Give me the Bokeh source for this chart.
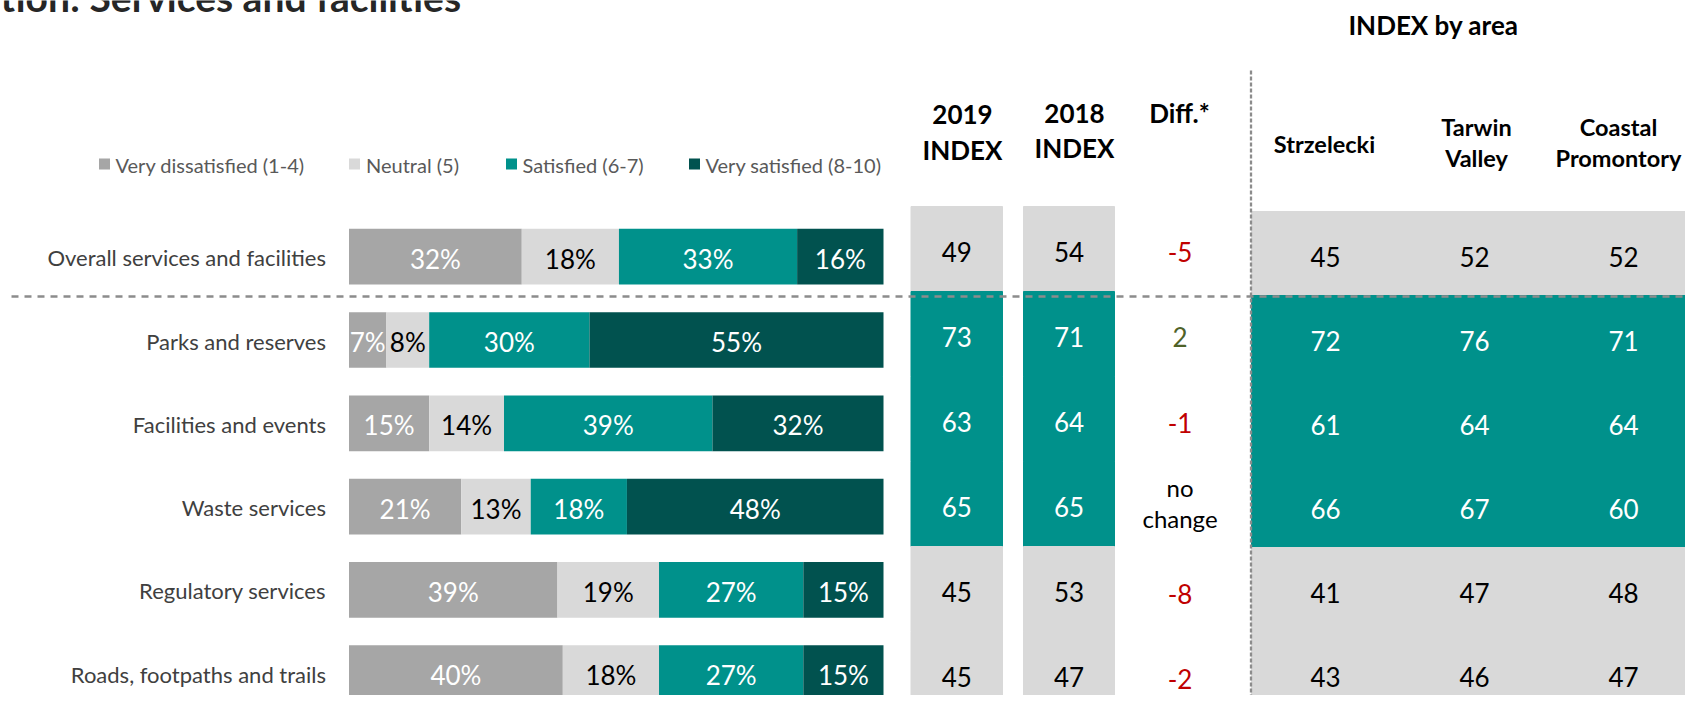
from bokeh.plotting import figure
from bokeh.models import Range1d, ColumnDataSource
from bokeh.core.properties import value
from bokeh.embed import file_html
from bokeh.resources import INLINE

# ---------------- data ----------------
categories = ["Overall services and facilities", "Parks and reserves", "Facilities and events",
              "Waste services", "Regulatory services", "Roads, footpaths and trails"]
series_names = ["Very dissatisfied (1-4)", "Neutral (5)", "Satisfied (6-7)", "Very satisfied (8-10)"]
very_dissatisfied = [32, 7, 15, 21, 39, 40]
neutral = [18, 8, 14, 13, 19, 18]
satisfied = [33, 30, 39, 18, 27, 27]
very_satisfied = [16, 55, 32, 48, 15, 15]
index_2019 = [49, 73, 63, 65, 45, 45]
index_2018 = [54, 71, 64, 65, 53, 47]
area_names = ["Strzelecki", "Tarwin\nValley", "Coastal\nPromontory"]
strzelecki = [45, 72, 61, 66, 41, 43]
tarwin_valley = [52, 76, 64, 67, 47, 46]
coastal_promontory = [52, 71, 64, 60, 48, 47]
highlight_rows = [False, True, True, True, False, False]
title_text = "tion: Services and facilities"

# ---------------- style / layout ----------------
FONT = value("Lato")
SERIES_COLORS = ["#A6A6A6", "#D9D9D9", "#00918B", "#01524F"]
LABEL_COLORS = ["white", "black", "white", "white"]
GREY, TEAL = "#D9D9D9", "#00918B"
DASH_COLOR = "#8C8C8C"

W, H = 1685, 695
PX0, PY0 = 0, 0                     # picture coordinate of the canvas corner
BAR_L, BAR_R = 348.5, 883.0         # picture px of 0% and 100%
BAR_Y0, BAR_STEP, BAR_H = 256.2, 83.3, 55.7

def to_pct(px):
    return (px - BAR_L) / (BAR_R - BAR_L) * 100.0

p = figure(width=W, height=H, x_range=Range1d(PX0, PX0 + W), y_range=Range1d(PY0 + H, PY0),
           x_axis_type=None, y_axis_type=None, toolbar_location=None, output_backend="svg",
           min_border=0, outline_line_color=None, background_fill_color="white")
p.grid.visible = False
p.extra_x_ranges = {"pct": Range1d(to_pct(PX0), to_pct(PX0 + W))}

n = len(categories)
rows = list(range(n))
bar_y = [BAR_Y0 + BAR_STEP * i for i in rows]

# ---------------- stacked 100% bars ----------------
series = [very_dissatisfied, neutral, satisfied, very_satisfied]
totals = [sum(s[i] for s in series) for i in rows]
cum = [0.0] * n
for k, s in enumerate(series):
    left = [cum[i] for i in rows]
    right = [cum[i] + s[i] / totals[i] * 100.0 for i in rows]
    cum = right
    src = ColumnDataSource(dict(y=bar_y, left=left, right=right,
                                mid=[(a + b) / 2 for a, b in zip(left, right)],
                                ty=[y + 2 for y in bar_y],
                                label=[f"{v}%" for v in s]))
    p.hbar(y="y", left="left", right="right", height=BAR_H, source=src,
           fill_color=SERIES_COLORS[k], line_color=None, x_range_name="pct")
    p.text(x="mid", y="ty", text="label", source=src, x_range_name="pct",
           text_align="center", text_baseline="middle", text_font=FONT,
           text_font_size="26px", text_color=LABEL_COLORS[k])

# category labels
p.text(x=[325.5] * n, y=[y + 1 for y in bar_y], text=categories, text_align="right",
       text_baseline="middle", text_font=FONT, text_font_size="22px", text_color="#404040")

# legend
leg_sq_x = [104, 354, 511, 694]
leg_tx_x = [115, 365.5, 522, 705]
p.scatter(x=leg_sq_x, y=[163.5] * 4, marker="square", size=11, fill_color=SERIES_COLORS,
          line_color=None)
p.text(x=leg_tx_x, y=[164] * 4, text=series_names, text_baseline="middle",
       text_font=FONT, text_font_size="20px", text_color="#595959")

# ---------------- index columns ----------------
CELL_TOP, CELL_H = 206, 85
col_bounds = [(910.5, 1002), (1023, 1114)]
cell_fill = [TEAL if h else GREY for h in highlight_rows]
cell_txt = ["white" if h else "black" for h in highlight_rows]
for (l, r), vals in zip(col_bounds, [index_2019, index_2018]):
    tops = [CELL_TOP + CELL_H * i for i in rows]
    p.quad(left=[l] * n, right=[r] * n, top=tops, bottom=[t + CELL_H for t in tops],
           fill_color=cell_fill, line_color=cell_fill, line_width=1)
    p.text(x=[(l + r) / 2] * n, y=[t + CELL_H / 2 + 3 for t in tops], text=[str(v) for v in vals],
           text_align="center", text_baseline="middle", text_font=FONT, text_font_size="26px",
           text_color=cell_txt)

# diff column
diffs = [a - b for a, b in zip(index_2019, index_2018)]
diff_text = [("no\nchange" if d == 0 else str(d)) for d in diffs]
diff_color = [("black" if d == 0 else ("#4F6228" if d > 0 else "#C00000")) for d in diffs]
diff_size = [("24px" if d == 0 else "26px") for d in diffs]
diff_y = [251 + 85.5 * i - (5 if d == 0 else 0) for i, d in zip(rows, diffs)]
p.text(x=[1179.5] * n, y=diff_y, text=diff_text, text_align="center",
       text_baseline="middle", text_font=FONT, text_font_size=diff_size, text_color=diff_color,
       text_line_height=1.05)

# ---------------- area panel ----------------
AREA_TOP, AREA_H = 211, 84
AREA_L, AREA_R = 1251, 1705
a_tops = [AREA_TOP + AREA_H * i for i in rows]
p.quad(left=[AREA_L] * n, right=[AREA_R] * n, top=a_tops, bottom=[t + AREA_H for t in a_tops],
       fill_color=cell_fill, line_color=cell_fill, line_width=1)
area_x = [1325, 1474, 1623]
for x, vals in zip(area_x, [strzelecki, tarwin_valley, coastal_promontory]):
    p.text(x=[x] * n, y=[t + AREA_H / 2 + 3 for t in a_tops], text=[str(v) for v in vals],
           text_align="center", text_baseline="middle", text_font=FONT, text_font_size="26px",
           text_color=cell_txt)

# ---------------- dashed separators ----------------
p.line(x=[11, 1705], y=[296, 296], line_color=DASH_COLOR, line_width=2.3, line_dash="7 6")
p.line(x=[1250.5, 1250.5], y=[70, 720], line_color=DASH_COLOR, line_width=2.3, line_dash="4 2")

# ---------------- headers ----------------
hdr = dict(text_align="center", text_baseline="middle", text_font=FONT,
           text_font_style="bold", text_color="black", text_line_height=1.1)
p.text(x=[962, 1074], y=[131.5, 130], text=["2019\nINDEX", "2018\nINDEX"],
       text_font_size="26px", **hdr)
p.text(x=[1179], y=[112], text=["Diff.*"], text_font_size="26px", **hdr)
p.text(x=[1433], y=[24], text=["INDEX by area"], text_font_size="26px", **hdr)
p.text(x=[1324, 1476, 1618], y=[143, 142, 142], text=area_names, text_font_size="23.5px", **hdr)

# title (clipped at the top like the reference)
p.text(x=[0], y=[-3.5], text=[title_text], text_baseline="alphabetic", text_font=FONT,
       text_font_size="39px", text_font_style="bold", text_color="#262626")

open("out.html", "w").write(file_html(p, INLINE))
